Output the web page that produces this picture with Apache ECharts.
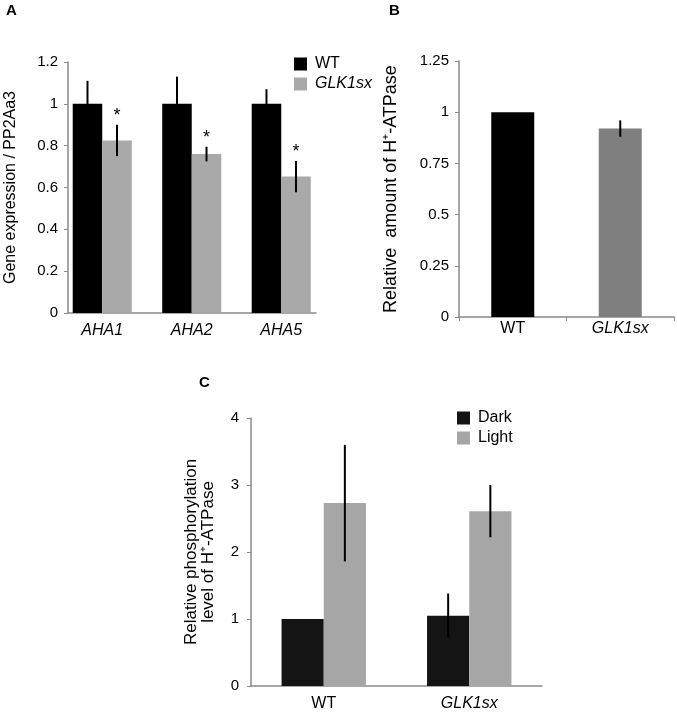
<!DOCTYPE html>
<html>
<head>
<meta charset="utf-8">
<script src="https://cdn.jsdelivr.net/npm/echarts@6/dist/echarts.min.js"></script>
<style>
html,body{margin:0;padding:0;background:#fff;}
#c{width:677px;height:713px;}
</style>
</head>
<body>
<div id="c"></div>
<script>
// ---- data ----
const catsA = ['AHA1', 'AHA2', 'AHA5'];
const wtA = [1, 1, 1];
const wtAErr = [0.11, 0.13, 0.07];
const glkA = [0.825, 0.76, 0.652];
const glkAErr = [0.075, 0.035, 0.075];
const sigA = ['*', '*', '*'];
const yAxisA = [0, 1.2, 0.2];

const catsB = ['WT', 'GLK1sx'];
const valsB = [1, 0.92];
const errB = [0, 0.04];
const yAxisB = [0, 1.25, 0.25];

const catsC = ['WT', 'GLK1sx'];
const darkC = [1, 1.05];
const darkCErr = [0, 0.33];
const lightC = [2.73, 2.61];
const lightCErr = [0.87, 0.39];
const yAxisC = [0, 4, 1];

// ---- styling ----
const FONT = "'Liberation Sans', Arial, Helvetica, sans-serif";
const AXC = '#8a8a8a';
const BLACK = '#000000';
const GREY_A = '#a9a9a9';
const GREY_B = '#7f7f7f';
const DARK_C = '#141414';
const LIGHT_C = '#a6a6a6';

const catRich = {
  i: { fontStyle: 'italic', fontSize: 16, fontFamily: FONT, color: '#000' },
  n: { fontSize: 16, fontFamily: FONT, color: '#000' }
};
const catFmt = v => (v === 'WT' ? '{n|' + v + '}' : '{i|' + v + '}');

function errSeries(name, xi, yi, vals, errs, frac, sig) {
  return {
    type: 'custom', name: name, xAxisIndex: xi, yAxisIndex: yi, z: 10,
    silent: true,
    data: vals.map((v, i) => [i, v, errs[i]]),
    renderItem: function (params, api) {
      const x = api.value(0), v = api.value(1), e = api.value(2);
      const c = api.coord([x, v]);
      const band = api.size([1, 0])[0];
      const cx = c[0] + frac * band;
      const top = api.coord([x, v + e])[1];
      const bot = api.coord([x, v - e])[1];
      const children = [];
      if (e > 0) {
        children.push({
          type: 'line',
          shape: { x1: cx, y1: top, x2: cx, y2: bot },
          style: { stroke: '#000', lineWidth: 2 }
        });
      }
      const s = sig ? sig[params.dataIndex] : '';
      if (s) {
        children.push({
          type: 'text',
          style: {
            x: cx, y: top - 9, text: s, align: 'center', verticalAlign: 'middle',
            font: '18px ' + FONT, fill: '#000'
          }
        });
      }
      return { type: 'group', children: children };
    }
  };
}

const titleStyle = { fontFamily: FONT, fontWeight: 'bold', fontSize: 15, color: '#000' };

const option = {
  animation: false,
  backgroundColor: '#fff',
  title: [
    { text: 'A', left: 6, top: 3, padding: 0, textStyle: titleStyle },
    { text: 'B', left: 389, top: 3, padding: 0, textStyle: titleStyle },
    { text: 'C', left: 199, top: 375, padding: 0, textStyle: titleStyle }
  ],
  legend: [
    {
      data: ['WT', 'GLK1sx'], orient: 'vertical', left: 294, top: 56, padding: 0,
      icon: 'rect', itemWidth: 13, itemHeight: 13, itemGap: 4, selectedMode: false,
      formatter: n => (n === 'GLK1sx' ? '{i|' + n + '}' : '{n|' + n + '}'),
      textStyle: { fontFamily: FONT, fontSize: 16, color: '#000', rich: catRich, padding: [0, 0, 0, 3] }
    },
    {
      data: ['Dark', 'Light'], orient: 'vertical', left: 457, top: 410, padding: 0,
      icon: 'rect', itemWidth: 13, itemHeight: 13, itemGap: 4, selectedMode: false,
      textStyle: { fontFamily: FONT, fontSize: 16, color: '#000', padding: [0, 0, 0, 3] }
    }
  ],
  grid: [
    { left: 68, top: 62, width: 248, height: 251, containLabel: false },   // 0 A frame
    { left: 57.5, top: 62, width: 268.5, height: 251, containLabel: false }, // 1 A data
    { left: 459, top: 61, width: 215, height: 256, containLabel: false },  // 2 B
    { left: 251, top: 418, width: 291, height: 268, containLabel: false }  // 3 C
  ],
  xAxis: [
    { type: 'value', gridIndex: 0, min: 0, max: 1, axisLine: { show: true, onZero: false, lineStyle: { color: AXC, width: 1.5 } },
      axisTick: { show: false }, axisLabel: { show: false }, splitLine: { show: false } },
    { type: 'category', gridIndex: 1, data: catsA, axisLine: { show: false }, axisTick: { show: false },
      axisLabel: { margin: 10, fontFamily: FONT, fontSize: 16, fontStyle: 'italic', color: '#000' } },
    { type: 'category', gridIndex: 2, data: catsB, axisLine: { show: true, lineStyle: { color: AXC, width: 1.5 } },
      axisTick: { show: true, length: 4, lineStyle: { color: AXC } },
      axisLabel: { margin: 4, formatter: catFmt, rich: catRich } },
    { type: 'category', gridIndex: 3, data: catsC, axisLine: { show: true, lineStyle: { color: AXC, width: 1.5 } },
      axisTick: { show: false },
      axisLabel: { margin: 10, formatter: catFmt, rich: catRich } }
  ],
  yAxis: [
    { type: 'value', gridIndex: 0, min: yAxisA[0], max: yAxisA[1], interval: yAxisA[2],
      axisLine: { show: true, lineStyle: { color: AXC, width: 1.5 } },
      axisTick: { show: true, length: 4, lineStyle: { color: AXC } },
      axisLabel: { margin: 10, fontFamily: FONT, fontSize: 15, color: '#000' },
      splitLine: { show: false },
      name: 'Gene expression / PP2Aa3', nameLocation: 'middle', nameGap: 49,
      nameTextStyle: { fontFamily: FONT, fontSize: 16, color: '#000' } },
    { type: 'value', gridIndex: 1, min: yAxisA[0], max: yAxisA[1], show: false, splitLine: { show: false } },
    { type: 'value', gridIndex: 2, min: yAxisB[0], max: yAxisB[1], interval: yAxisB[2],
      axisLine: { show: true, lineStyle: { color: AXC, width: 1.5 } },
      axisTick: { show: true, length: 4, lineStyle: { color: AXC } },
      axisLabel: { margin: 10, fontFamily: FONT, fontSize: 15, color: '#000' },
      splitLine: { show: false },
      name: 'Relative  amount of H\u207A-ATPase', nameLocation: 'middle', nameGap: 59,
      nameTextStyle: { fontFamily: FONT, fontSize: 18, color: '#000' } },
    { type: 'value', gridIndex: 3, min: yAxisC[0], max: yAxisC[1], interval: yAxisC[2],
      axisLine: { show: true, lineStyle: { color: AXC, width: 1.5 } },
      axisTick: { show: true, length: 4, lineStyle: { color: AXC } },
      axisLabel: { margin: 12, fontFamily: FONT, fontSize: 15, color: '#000' },
      splitLine: { show: false },
      name: 'Relative phosphorylation\nlevel of H\u207A-ATPase', nameLocation: 'middle', nameGap: 34,
      nameTextStyle: { fontFamily: FONT, fontSize: 17, lineHeight: 17, color: '#000' } }
  ],
  series: [
    { type: 'bar', name: 'WT', xAxisIndex: 1, yAxisIndex: 1, data: wtA, barWidth: '33%', barGap: '0%',
      itemStyle: { color: BLACK }, silent: true },
    { type: 'bar', name: 'GLK1sx', xAxisIndex: 1, yAxisIndex: 1, data: glkA, barWidth: '33%', barGap: '0%',
      itemStyle: { color: GREY_A }, silent: true },
    errSeries('errWT', 1, 1, wtA, wtAErr, -0.165, null),
    errSeries('errGLK', 1, 1, glkA, glkAErr, 0.165, sigA),

    { type: 'bar', name: 'amountB', xAxisIndex: 2, yAxisIndex: 2, barWidth: '40%', silent: true,
      data: valsB.map((v, i) => ({ value: v, itemStyle: { color: i === 0 ? BLACK : GREY_B } })) },
    errSeries('errB', 2, 2, valsB, errB, 0, null),

    { type: 'bar', name: 'Dark', xAxisIndex: 3, yAxisIndex: 3, data: darkC, barWidth: '29%', barGap: '0%',
      itemStyle: { color: DARK_C }, silent: true },
    { type: 'bar', name: 'Light', xAxisIndex: 3, yAxisIndex: 3, data: lightC, barWidth: '29%', barGap: '0%',
      itemStyle: { color: LIGHT_C }, silent: true },
    errSeries('errDark', 3, 3, darkC, darkCErr, -0.145, null),
    errSeries('errLight', 3, 3, lightC, lightCErr, 0.145, null)
  ]
};

const chart = echarts.init(document.getElementById('c'), null, { renderer: 'canvas' });
chart.setOption(option);
</script>
</body>
</html>
